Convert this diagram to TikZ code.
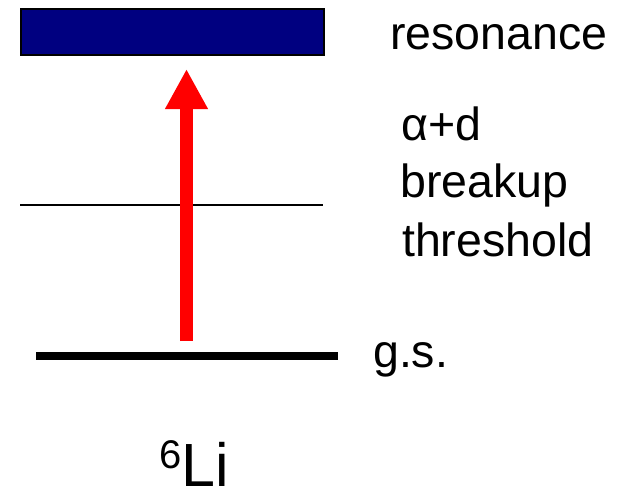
\documentclass[tikz,border=0pt]{standalone}
\usepackage{fontspec}
\setmainfont{Liberation Sans}
\usetikzlibrary{arrows.meta}
\definecolor{resnavy}{RGB}{0,0,128}
\definecolor{arrowred}{RGB}{255,0,0}
\tikzset{
  lbl/.style={anchor=base west, inner sep=0pt, font=\fontsize{46.5}{58}\selectfont},
  level/.style={draw=black, line width=#1},
  excite/.style={draw=arrowred, line width=13pt, -{Triangle[length=40pt,width=40pt]}}
}
\begin{document}
\begin{tikzpicture}[x=1pt,y=-1pt]
\useasboundingbox (0,0) rectangle (630,490);
% resonance band
\node[draw=black, line width=2pt, fill=resnavy, minimum width=303pt, minimum height=46pt, inner sep=0pt, anchor=north west] (res) at (20,8) {};
% threshold level
\coordinate (thL) at (20,205);
\coordinate (thR) at (323,205);
\draw[level=2pt] (thL) -- (thR);
% ground state level
\coordinate (gsL) at (36,356);
\coordinate (gsR) at (338,356);
\draw[level=8pt] (gsL) -- (gsR);
% excitation arrow
\coordinate (arrStart) at (186.5,341);
\coordinate (arrEnd) at (186.5,69);
\draw[excite] (arrStart) -- (arrEnd);
% labels
\node[lbl] (tres) at (390,49) {resonance};
\node[lbl] (tad) at (401,140) {α+d};
\node[lbl] (tbr) at (400,197) {breakup};
\node[lbl] (tth) at (402,256) {threshold};
\node[lbl] (tgs) at (373,367) {g.s.};
\node[anchor=base west, inner sep=0pt] (tli) at (159,486) {{\fontsize{40}{48}\selectfont\raisebox{18pt}{6}}{\fontsize{61}{70}\selectfont Li}};
\end{tikzpicture}
\end{document}
